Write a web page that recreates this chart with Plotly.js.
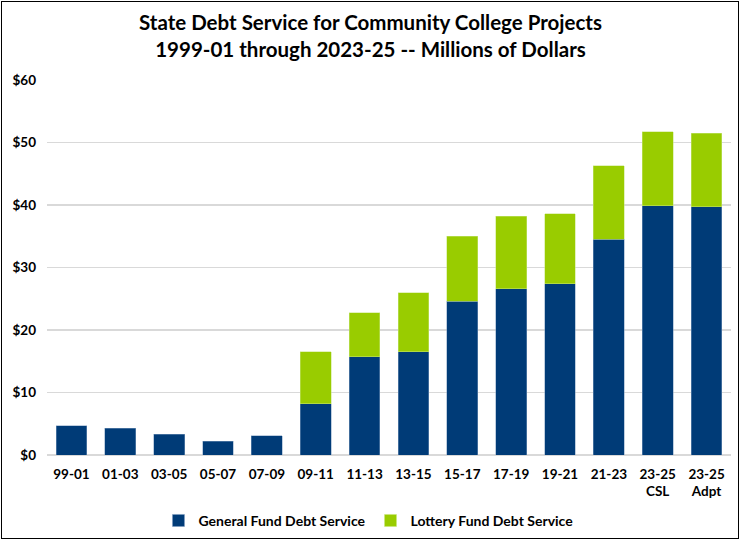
<!DOCTYPE html>
<html><head><meta charset="utf-8">
<script src="https://cdn.plot.ly/plotly-3.0.1.min.js"></script>
<style>html,body{margin:0;padding:0;background:#fff}#wrap{position:relative;width:741px;height:542px}#c{width:741px;height:542px}#frame{position:absolute;left:1px;top:1px;width:736px;height:536px;border:1.5px solid #000;pointer-events:none}</style>
</head><body><div id="wrap"><div id="c"></div><div id="frame"></div></div>
<script>
const categories = ["99-01","01-03","03-05","05-07","07-09","09-11","11-13","13-15","15-17","17-19","19-21","21-23","23-25 CSL","23-25 Adpt"];
const tickLabels = ["99-01","01-03","03-05","05-07","07-09","09-11","11-13","13-15","15-17","17-19","19-21","21-23","23-25<br>CSL","23-25<br>Adpt"];
const generalFund = [4.7,4.3,3.3,2.2,3.1,8.2,15.7,16.5,24.6,26.6,27.4,34.5,39.9,39.7];
const lotteryFund = [null,null,null,null,null,8.3,7.1,9.5,10.4,11.6,11.2,11.8,11.8,11.8];
const yTicks = [0,10,20,30,40,50,60];
const yTickLabels = ["$0","$10","$20","$30","$40","$50","$60"];

const font = "Lato, 'Open Sans', sans-serif";
const data = [
  {type:"bar", name:"<b>General Fund Debt Service</b>", x:categories, y:generalFund,
   marker:{color:"#003B77", line:{color:"#7F9DC0", width:0.5}}},
  {type:"bar", name:"<b>Lottery Fund Debt Service</b>", x:categories, y:lotteryFund,
   marker:{color:"#99CC00", line:{color:"#C8E67F", width:0.5}}}
];
const layout = {
  width:741, height:542,
  margin:{l:47, r:10, t:80, b:87, autoexpand:false},
  barmode:"stack", bargap:0.37,
  paper_bgcolor:"#fff", plot_bgcolor:"#fff",
  font:{family:font, color:"#000"},
  title:{text:"<b>State Debt Service for Community College Projects<br>1999-01 through 2023-25 -- Millions of Dollars</b>",
         x:0.5, xanchor:"center", yref:"container", y:0.944, yanchor:"middle", font:{size:20.5, family:font, color:"#000"}},
  xaxis:{type:"category", tickvals:categories, ticktext:tickLabels.map(t=>"<b>"+t+"</b>"),
         tickfont:{size:13.5, family:font, color:"#000"}, showgrid:false, showline:false, ticks:"", ticklen:0, ticklabelstandoff:9},
  yaxis:{range:[0,60], tickvals:yTicks, ticktext:yTickLabels.map(t=>"<b>"+t+"</b>"),
         tickfont:{size:13.5, family:font, color:"#000"}, showgrid:true, gridcolor:"#D9D9D9", gridwidth:1.3,
         zeroline:true, zerolinecolor:"#D9D9D9", zerolinewidth:1.3, showline:false, ticks:"", ticklabelstandoff:10},
  legend:{orientation:"h", x:0.47, xanchor:"center", yref:"container", y:0.039, yanchor:"middle",
          font:{size:14, family:font, color:"#000"}, traceorder:"normal", itemwidth:30},
  showlegend:true
};
Plotly.newPlot("c", data, layout, {displayModeBar:false, staticPlot:true});
</script></body></html>
